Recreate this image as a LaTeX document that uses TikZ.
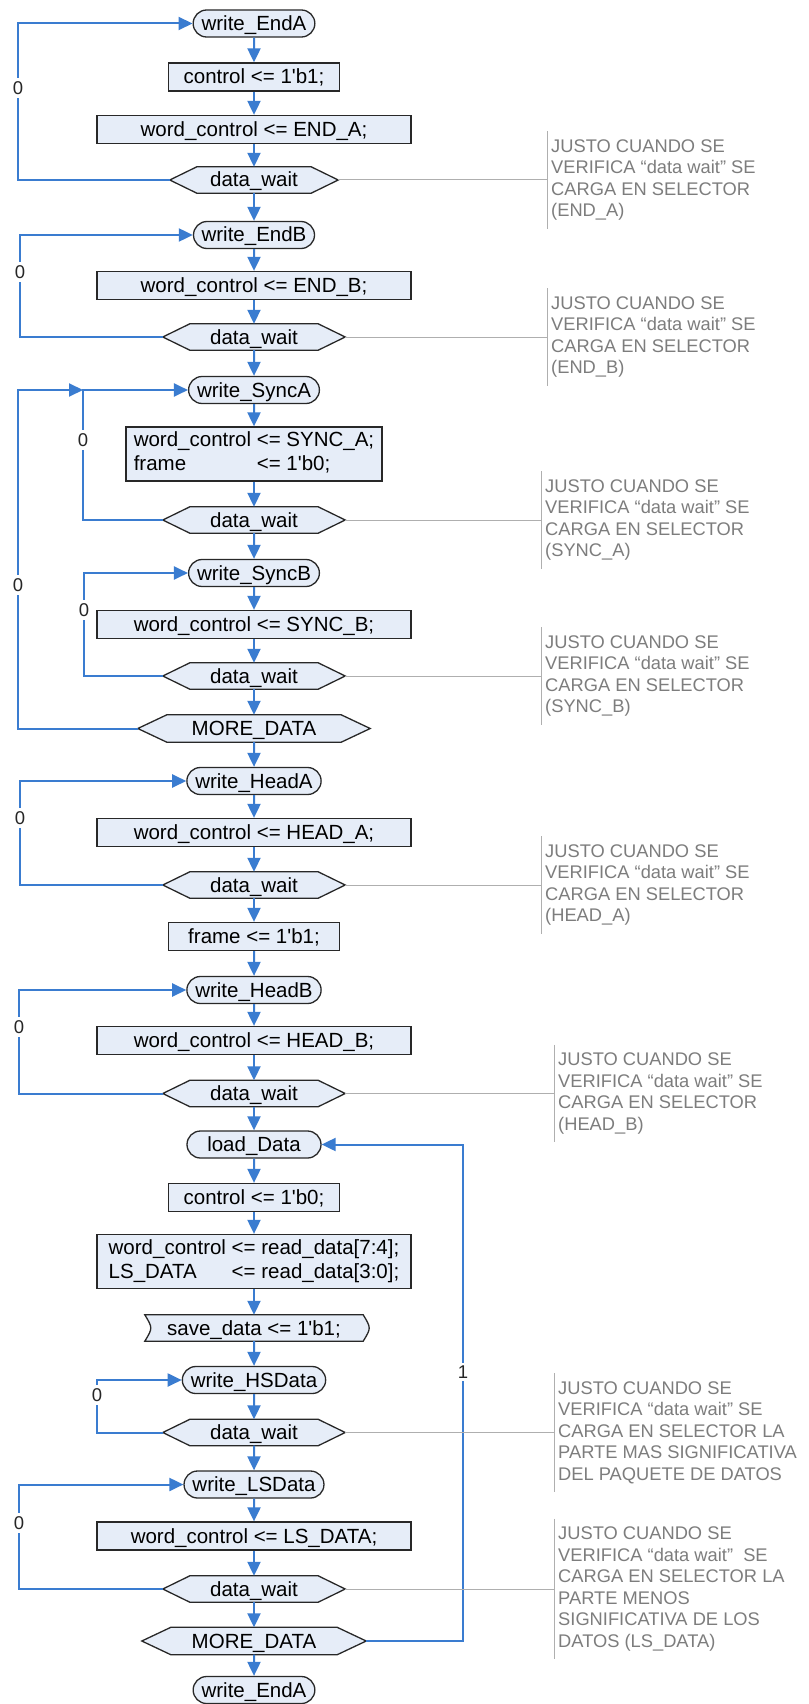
\documentclass[tikz,border=0pt]{standalone}
\usepackage{fontspec}
\setmainfont{Liberation Sans}[Ligatures=TeXOff]
\usetikzlibrary{arrows.meta,shapes.misc,backgrounds}

\definecolor{flowblue}{RGB}{58,124,208}
\definecolor{boxfill}{RGB}{230,237,248}
\definecolor{boxline}{RGB}{40,40,40}
\definecolor{notegray}{RGB}{125,125,125}
\definecolor{notelinegray}{RGB}{175,175,175}

% hexagonal decision outline around a (borderless) node; #2 = depth of the points
\newcommand\hexoutline[2]{%
  \draw[shapeline] (#1.west) -- ([xshift=#2]#1.north west) -- ([xshift=-#2]#1.north east)
    -- (#1.east) -- ([xshift=-#2]#1.south east) -- ([xshift=#2]#1.south west) -- cycle;}

\begin{document}
\begin{tikzpicture}[x=1pt,y=-1pt,
  mainfont/.style={font=\fontsize{20.5}{24}\selectfont},
  box/.style={draw=boxline, fill=boxfill, line width=1.3pt, mainfont, text=black,
    text height=17pt, text depth=3pt, inner xsep=4pt, inner ysep=3.5pt},
  term/.style={box, rounded rectangle, minimum height=27pt},
  proc/.style={box, rectangle, minimum height=28pt},
  block/.style={draw=boxline, fill=boxfill, line width=1.3pt, mainfont, text=black,
    inner xsep=6pt, inner ysep=3pt, rectangle},
  dec/.style={mainfont, text=black, text height=17pt, text depth=3pt, inner sep=0pt,
    minimum height=26pt},
  flow/.style={draw=flowblue, line width=2pt, -{Triangle[length=14pt,width=13pt]}},
  lbl/.style={fill=white, inner xsep=0pt, inner ysep=3pt,
    font=\fontsize{18.5}{20}\selectfont, text=black!85},
  note/.style={align=left, text=notegray, font=\fontsize{18.3}{21.5}\selectfont,
    inner xsep=4pt, inner ysep=8pt, anchor=west},
  noteline/.style={draw=notelinegray, line width=1pt},
  shapeline/.style={draw=boxline, fill=boxfill, line width=1.3pt}
]
\useasboundingbox (0,0) rectangle (808,1704);

% ---------- main column ----------
\node[term, minimum width=116pt] (tA1) at (254,23.5) {write\_EndA};
\node[proc, minimum width=171pt] (c1)  at (254,77)   {control <= 1'b1;};
\node[proc, minimum width=314pt] (wA)  at (254,129.5) {word\_control <= END\_A;};
\node[dec,  minimum width=168pt] (dw1) at (254,180)  {data\_wait};
\node[term, minimum width=129pt] (tB)  at (254,235)  {write\_EndB};
\node[proc, minimum width=314pt] (wB)  at (254,285.5) {word\_control <= END\_B;};
\node[dec,  minimum width=182pt] (dw2) at (254,337)  {data\_wait};
\node[term, minimum width=129pt] (tSA) at (254,390)  {write\_SyncA};
\node[block, minimum width=256pt, minimum height=54pt] (wSA) at (254,454)
  {\begin{tabular}{@{}l@{\ }l@{}}word\_control & <= SYNC\_A;\\ frame & <= 1'b0;\end{tabular}};
\node[dec,  minimum width=182pt] (dw3) at (254,520)  {data\_wait};
\node[term, minimum width=129pt] (tSB) at (254,573)  {write\_SyncB};
\node[proc, minimum width=314pt] (wSB) at (254,624.5) {word\_control <= SYNC\_B;};
\node[dec,  minimum width=182pt] (dw4) at (254,676)  {data\_wait};
\node[dec,  minimum width=232pt, minimum height=27pt] (md1) at (254,728.5) {MORE\_DATA};
\node[term, minimum width=129pt] (tHA) at (254,781)  {write\_HeadA};
\node[proc, minimum width=314pt] (wHA) at (254,832.5) {word\_control <= HEAD\_A;};
\node[dec,  minimum width=182pt] (dw5) at (254,885)  {data\_wait};
\node[proc, minimum width=171pt] (fr)  at (254,936.5) {frame <= 1'b1;};
\node[term, minimum width=129pt] (tHB) at (254,990)  {write\_HeadB};
\node[proc, minimum width=314pt] (wHB) at (254,1040.5) {word\_control <= HEAD\_B;};
\node[dec,  minimum width=182pt] (dw6) at (254,1093.5) {data\_wait};
\node[term, minimum width=142pt] (ld)  at (254,1144.5) {load\_Data};
\node[proc, minimum width=171pt] (c0)  at (254,1197.5) {control <= 1'b0;};
\node[block, minimum width=314pt, minimum height=51pt] (rd) at (254,1261.5)
  {\begin{tabular}{@{}l@{}l@{}}word\_control\ \ & <= read\_data[7:4];\\ LS\_DATA & <= read\_data[3:0];\end{tabular}};
\node[dec,  minimum width=218pt] (sv)  at (254,1328) {save\_data <= 1'b1;};
\node[term, minimum width=142pt] (tHS) at (254,1380) {write\_HSData};
\node[dec,  minimum width=182pt] (dw7) at (254,1432.5) {data\_wait};
\node[term, minimum width=136pt] (tLS) at (254,1484.5) {write\_LSData};
\node[proc, minimum width=314pt] (wLS) at (254,1536) {word\_control <= LS\_DATA;};
\node[dec,  minimum width=182pt] (dw8) at (254,1589) {data\_wait};
\node[dec,  minimum width=224pt, minimum height=27pt] (md2) at (254,1641) {MORE\_DATA};
\node[term, minimum width=117pt] (tA2) at (254,1690) {write\_EndA};

% ---------- outlines of decisions and of the output step ----------
\begin{scope}[on background layer]
  \fill[white] (0,0) rectangle (808,1704);
  \foreach \d in {dw1,dw2,dw3,dw4,dw5,dw6,dw7,dw8} {\hexoutline{\d}{27pt}}
  \hexoutline{md1}{29pt}
  \hexoutline{md2}{29pt}
  \draw[shapeline] (sv.north west) .. controls ([xshift=8pt]sv.west) .. (sv.south west)
    -- (sv.south east) .. controls ([xshift=8pt]sv.east) .. (sv.north east) -- cycle;
\end{scope}

% ---------- straight flow ----------
\foreach \a/\b in {tA1/c1, c1/wA, wA/dw1, dw1/tB, tB/wB, wB/dw2, dw2/tSA, tSA/wSA,
    wSA/dw3, dw3/tSB, tSB/wSB, wSB/dw4, dw4/md1, md1/tHA, tHA/wHA, wHA/dw5, dw5/fr,
    fr/tHB, tHB/wHB, wHB/dw6, dw6/ld, ld/c0, c0/rd, rd/sv, sv/tHS, tHS/dw7, dw7/tLS,
    tLS/wLS, wLS/dw8, dw8/md2, md2/tA2}
  \draw[flow] (\a) -- (\b);

% ---------- loops ----------
\coordinate (k1) at (18,0);
\coordinate (k2) at (20,0);
\coordinate (k3) at (83,0);
\coordinate (k5) at (84,0);
\coordinate (k7) at (19,0);
\coordinate (k8) at (97,0);
\coordinate (k10) at (463,0);
\coordinate (j1) at (tSA.west -| k3);

\draw[flow] (dw1.west) -- (dw1.west -| k1) |- (tA1.west);
\draw[flow] (dw2.west) -- (dw2.west -| k2) |- (tB.west);
\draw[flow] (dw3.west) -- (dw3.west -| k3) |- (tSA.west);
\draw[flow] (md1.west) -- (md1.west -| k1) |- (j1);
\draw[flow] (dw4.west) -- (dw4.west -| k5) |- (tSB.west);
\draw[flow] (dw5.west) -- (dw5.west -| k2) |- (tHA.west);
\draw[flow] (dw6.west) -- (dw6.west -| k7) |- (tHB.west);
\draw[flow] (dw7.west) -- (dw7.west -| k8) |- (tHS.west);
\draw[flow] (dw8.west) -- (dw8.west -| k7) |- (tLS.west);
\draw[flow] (md2.east) -- (md2.east -| k10) |- (ld.east);

\node[lbl] (z1) at (18,88) {0};
\node[lbl] (z2) at (20,272) {0};
\node[lbl] (z3) at (83,440) {0};
\node[lbl] (z4) at (18,585) {0};
\node[lbl] (z5) at (84,610) {0};
\node[lbl] (z6) at (20,818) {0};
\node[lbl] (z7) at (19,1027) {0};
\node[lbl] (z8) at (97,1395) {0};
\node[lbl] (z9) at (19,1523) {0};
\node[lbl] (z10) at (463,1372) {1};

% ---------- annotations ----------
\node[note] (n1) at (547,180) {JUSTO CUANDO SE\\VERIFICA “data wait” SE\\CARGA EN SELECTOR\\(END\_A)};
\node[note] (n2) at (547,337) {JUSTO CUANDO SE\\VERIFICA “data wait” SE\\CARGA EN SELECTOR\\(END\_B)};
\node[note] (n3) at (541,520) {JUSTO CUANDO SE\\VERIFICA “data wait” SE\\CARGA EN SELECTOR\\(SYNC\_A)};
\node[note] (n4) at (541,676) {JUSTO CUANDO SE\\VERIFICA “data wait” SE\\CARGA EN SELECTOR\\(SYNC\_B)};
\node[note] (n5) at (541,885) {JUSTO CUANDO SE\\VERIFICA “data wait” SE\\CARGA EN SELECTOR\\(HEAD\_A)};
\node[note] (n6) at (554,1093.5) {JUSTO CUANDO SE\\VERIFICA “data wait” SE\\CARGA EN SELECTOR\\(HEAD\_B)};
\node[note] (n7) at (554,1432.5) {JUSTO CUANDO SE\\VERIFICA “data wait” SE\\CARGA EN SELECTOR LA\\PARTE MAS SIGNIFICATIVA\\DEL PAQUETE DE DATOS};
\node[note] (n8) at (554,1589) {JUSTO CUANDO SE\\VERIFICA “data wait”\ \ SE\\CARGA EN SELECTOR LA\\PARTE MENOS\\SIGNIFICATIVA DE LOS\\DATOS (LS\_DATA)};

\foreach \d/\n in {dw1/n1, dw2/n2, dw3/n3, dw4/n4, dw5/n5, dw6/n6, dw7/n7, dw8/n8} {
  \draw[noteline] (\d.east) -- (\n.west);
  \draw[noteline] (\n.north west) -- (\n.south west);
}
\end{tikzpicture}
\end{document}
